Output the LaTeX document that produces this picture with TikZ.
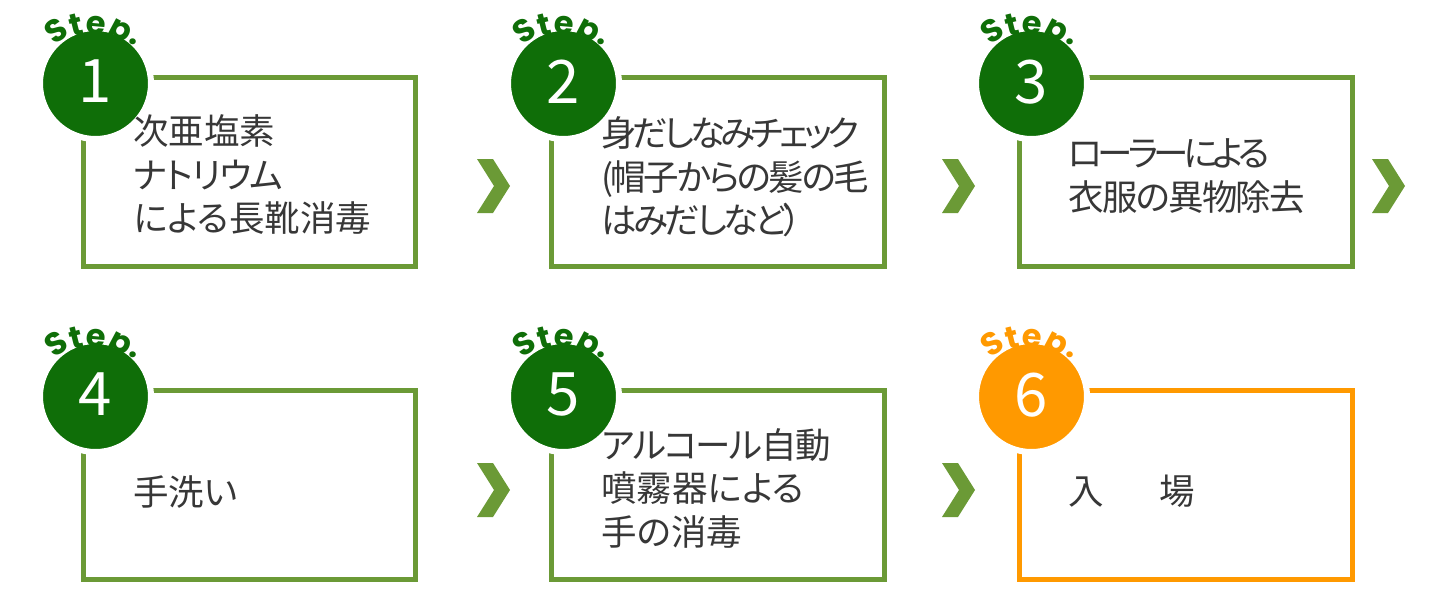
\documentclass[tikz,border=0pt]{standalone}
\usepackage{fontspec}
\setmainfont{Noto Sans CJK JP}[RawFeature=+palt]
\newfontfamily\stepfont{Poppins}
\definecolor{boxgreen}{RGB}{107,154,54}
\definecolor{circgreen}{RGB}{15,110,8}
\definecolor{stepor}{RGB}{255,153,0}
\definecolor{txtgray}{RGB}{55,55,55}
\newcommand\tight[2]{{\addfontfeature{LetterSpace=#1}#2}}
\tikzset{
  stepbox/.style={draw=#1, line width=2.5pt},
  numcirc/.style={circle, fill=#1, draw=white, line width=3pt, minimum size=55.5pt, inner sep=0pt,
    text=white, font=\fontsize{30pt}{30pt}\selectfont},
  stepletter/.style={text=#1, inner sep=0pt, font=\stepfont\bfseries\fontsize{16pt}{16pt}\selectfont},
  chev/.style={fill=boxgreen},
  txt/.style={text=txtgray, align=left, inner sep=0pt, anchor=west,
    font=\fontsize{17.75pt}{21.75pt}\selectfont}
}
\newcommand\stepbadge[5]{% #1 name, #2 x, #3 y, #4 number, #5 color
  \node[numcirc=#5] (#1) at (#2,#3) {\raisebox{2pt}{#4}};
  \begin{scope}[shift={(#2,#3)}]
    \node[stepletter=#5, rotate=35] (#1S) at (-39,-53) {S};
    \node[stepletter=#5, rotate=14] (#1t) at (-19,-58) {t};
    \node[stepletter=#5, rotate=-5] (#1e) at (1,-58) {e};
    \node[stepletter=#5, rotate=-28] (#1p) at (23,-49) {p};
    \node[stepletter=#5] (#1d) at (38,-42) {.};
  \end{scope}
}
\newcommand\chevron[2]{%
  \fill[chev] (#1,#2) -- ++(16,0) -- ++(17,27) -- ++(-17,27) -- ++(-16,0) -- ++(17,-27) -- cycle;
}
\begin{document}
\begin{tikzpicture}[x=0.5pt,y=-0.5pt]
\useasboundingbox (0,0) rectangle (1440,600);
% boxes
\draw[stepbox=boxgreen] (83,77) rectangle (415,266);
\draw[stepbox=boxgreen] (551,77) rectangle (884,266);
\draw[stepbox=boxgreen] (1019,77) rectangle (1352,266);
\draw[stepbox=boxgreen] (83,390) rectangle (415,579);
\draw[stepbox=boxgreen] (551,390) rectangle (884,579);
\draw[stepbox=stepor] (1019,390) rectangle (1352,579);
% badges
\stepbadge{c1}{95.5}{83.5}{1}{circgreen}
\stepbadge{c2}{563.5}{83.5}{2}{circgreen}
\stepbadge{c3}{1031.5}{83.5}{3}{circgreen}
\stepbadge{c4}{95.5}{396.5}{4}{circgreen}
\stepbadge{c5}{563.5}{396.5}{5}{circgreen}
\stepbadge{c6}{1031.5}{396.5}{6}{stepor}
% chevrons
\chevron{477}{159}
\chevron{942}{159}
\chevron{1372}{159}
\chevron{477}{463}
\chevron{942}{463}
% texts
\node[txt] (t1) at (133,175) {次亜塩素\\\tight{-4}{ナトリウム}\\による長靴消毒};
\node[txt] (t2) at (601,177) {\tight{-12}{身だしなみチェック}\\\tight{-7}{(帽子からの髪の毛}\\\tight{-10}{はみだしなど）}};
\node[txt] (t3) at (1068,176) {\tight{-14}{ローラーによる}\\\tight{-5}{衣服の異物除去}};
\node[txt] (t4) at (133,492) {手洗い};
\node[txt] (t5) at (601,488) {\tight{-4}{アルコール自動}\\噴霧器による\\手の消毒};
\node[txt] (t6) at (1068,491) {入\hspace{28pt}場};
\end{tikzpicture}
\end{document}
